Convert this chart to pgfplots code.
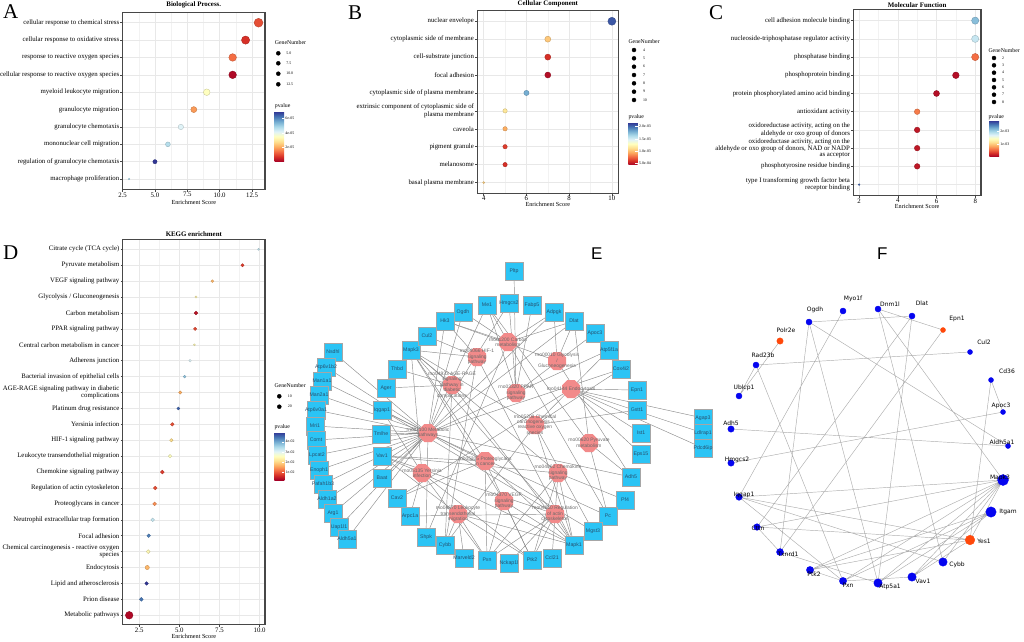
\documentclass[border=0pt]{standalone}
\usepackage{pgfplots}
\pgfplotsset{compat=1.18}
\usepackage{pgfplotstable}
\usepackage{fontspec}
\setmainfont{Liberation Serif}
\newfontfamily\netfont{DejaVu Sans}
\newfontfamily\boxfont{Liberation Sans}
\usetikzlibrary{calc,shapes.geometric}

\definecolor{boxcyan}{RGB}{43,196,245}
\definecolor{boxtext}{RGB}{40,80,110}
\definecolor{pathpink}{RGB}{242,138,138}
\definecolor{pathtext}{RGB}{105,105,105}
\definecolor{fblue}{RGB}{5,5,240}
\definecolor{forange}{RGB}{255,72,10}

\newcommand{\lab}{\fontsize{6.8}{5.4}\selectfont}
\newcommand{\tinylab}{\fontsize{3.9}{4.2}\selectfont}
\newcommand{\legt}{\fontsize{5.8}{6.5}\selectfont}

\pgfplotsset{
  colormap={rdylbu}{rgb255=(165,0,38) rgb255=(215,48,39) rgb255=(244,109,67) rgb255=(253,174,97) rgb255=(254,224,144) rgb255=(255,255,191) rgb255=(224,243,248) rgb255=(171,217,233) rgb255=(116,173,209) rgb255=(69,117,180) rgb255=(49,54,149)},
  dotplot/.style={
    scale only axis, anchor=north west, clip=false,
    y dir=reverse, ymin=0.4,
    colormap name=rdylbu,
    axis line style={draw=black!72, line width=1.1pt},
    tick pos=left, tick align=outside,
    major tick length=2.2pt, minor tick length=0pt,
    tick style={black!72, line width=0.5pt},
    grid=major, grid style={black!9, line width=0.5pt},
    minor x tick num=1, xminorgrids=true, minor grid style={black!5, line width=0.3pt},
    yticklabel style={font=\lab, align=right, inner sep=1pt},
    xticklabel style={font=\lab, inner sep=0.6pt},
    /pgf/number format/assume math mode=true,
    every axis title shift=0pt,
    title style={font=\bfseries\fontsize{6.9}{8}\selectfont, at={(0.5,1)}, anchor=south, inner sep=0pt},
    xlabel={Enrichment Score},
    xlabel style={font=\fontsize{6.2}{7}\selectfont, at={(0.5,0)}, anchor=center},
    colorbar,
    colorbar shift/.style={},
    colorbar style={scale only axis, anchor=north west, y dir=normal,
      axis line style={draw=none}, grid=none, xminorgrids=false, minor x tick num=0,
      xlabel={}, ylabel={}, title={}, xtick=\empty,
      ytick pos=right, yticklabel pos=right,
      tick style={white, line width=0.4pt}, major tick length=2.5pt, tick align=inside,
      yticklabel style={font=\tinylab, inner sep=1.2pt, align=left}},
  },
  dots/.style={scatter, only marks, mark=*, point meta=\thisrow{p},
    visualization depends on={\thisrow{r} \as \msz},
    scatter/@pre marker code/.append style={/tikz/mark size=\msz pt}},
  edgeE/.style={draw=black!45, line width=0.45pt, line join=round, mark=none},
  edgeF/.style={draw=black!32, line width=0.45pt, mark=none, unbounded coords=jump},
  legdots/.style={only marks, mark=*, black, point meta=explicit symbolic,
    visualization depends on={\thisrow{r} \as \msz},
    scatter, scatter/use mapped color={draw=black, fill=black},
    scatter/@pre marker code/.append style={/tikz/mark size=\msz pt},
    nodes near coords, every node near coord/.append style={font=\tinylab, anchor=west, text=black}},
}

\pgfplotstableread{
x y g
514 271 Pltp
463 312 Ogdh
487 305 Me1
509 303 Hmgcs2
532 305 Fabp5
554 312 Adpgk
574 321 Dlat
595 333 Apoc3
609 350 Atp5f1a
621 369 Cox4i2
637 390 Epn1
637 410 Gstt1
641 433 Ist1
641 454 Eps15
631 477 Adh5
625 500 Pf4
608 516 Pc
593 531 Mgst3
574 545 Mapk1
552 558 Ccl21
532 560 Ptk2
509 563 Nckap1l
487 560 Pxn
464 558 Marveld2
445 545 Cybb
426 537 Shpk
410 516 Arpc1a
397 498 Cav2
382 478 Baat
382 456 Vav1
381 434 Tmlhe
382 410 Iqgap1
386 388 Ager
397 369 Thbd
411 350 Mapk3
427 336 Cul2
445 321 Hk3
333 352 Nsdhl
326 367 Atp6v1b2
322 381 Man1a1
319 395 Man2a1
316 410 Atp6v0a1
315 426 Mri1
316 440 Comt
317 455 Lpcat2
319 470 Enoph1
323 484 Pafah1b3
327 499 Aldh1a2
333 513 Arg1
339 527 Uap1l1
347 539 Aldh5a1
703 418 Agap3
703 433 Ldlrap1
703 448 Pdcd6ip
}\genesE

\pgfplotstableread{
x y r
809 322 3
843 311 3
878 309 3
912 316 3
970 352 2.5
756 365 3
991 380 2.5
739 396 3
1003 412 2.5
731 429 3.2
1008 446 2.5
731 463 3.2
1003 480 5.5
739 497 3.3
991 512 5.2
757 527 3.3
780 552 3.5
943 562 4.2
810 570 3.6
912 577 4.2
843 581 3.6
878 583 4.2
}\blueF

\pgfplotstableread{
x y r
943 330 2.5
780 341 3.2
970 540 4.8
}\orangeF

\pgfplotstableread{
x y g
815 310 Ogdh
853 299 Myo1f
890 304 Dnm1l
922 303 Dlat
957 319 Epn1
786 330 Polr2e
984 342 Cul2
763 355 Rad23b
1007 371 Cd36
744 388 Ublcp1
1001 406 Apoc3
731 423 Adh5
1002 442 Aldh5a1
737 460 Hmgcs2
1000 478 Mapk3
744 495 Iqgap1
1008 512 Itgam
758 528 Cttn
984 541 Yes1
788 554 Txnrd1
957 565 Cybb
814 574 Ptk2
923 581 Vav1
848 585 Pxn
890 587 Atp5a1
}\labF

\begin{document}
\begin{tikzpicture}
\useasboundingbox (0,0) rectangle (1024pt,641pt);

% ---------------- canvas: networks, legends, letters
\begin{axis}[at={(0,0)}, anchor=south west, width=1024pt, height=641pt, scale only axis,
  xmin=0, xmax=1024, ymin=0, ymax=641, y dir=reverse, hide axis, clip=false]

% E edges, one star per pathway
\addplot[edgeE] coordinates {(428,433) (333,352) (428,433) (326,367) (428,433) (322,381) (428,433) (319,395) (428,433) (316,410) (428,433) (315,426) (428,433) (316,440) (428,433) (317,455) (428,433) (319,470) (428,433) (323,484) (428,433) (327,499) (428,433) (333,513) (428,433) (339,527) (428,433) (347,539) (428,433) (381,434) (428,433) (382,478) (428,433) (463,312) (428,433) (487,305) (428,433) (509,303) (428,433) (554,312) (428,433) (574,321) (428,433) (609,350) (428,433) (621,369) (428,433) (445,321) (428,433) (608,516) (428,433) (593,531) (428,433) (426,537) (428,433) (631,477)};
\addplot[edgeE] coordinates {(508,342) (463,312) (508,342) (487,305) (508,342) (445,321) (508,342) (554,312) (508,342) (574,321) (508,342) (608,516) (508,342) (426,537)};
\addplot[edgeE] coordinates {(477,357) (445,321) (477,357) (411,350) (477,357) (574,545) (477,357) (445,545) (477,357) (427,336)};
\addplot[edgeE] coordinates {(557,361) (445,321) (557,361) (554,312) (557,361) (574,321) (557,361) (631,477)};
\addplot[edgeE] coordinates {(452,385) (386,388) (452,385) (397,369) (452,385) (411,350) (452,385) (574,545) (452,385) (445,545)};
\addplot[edgeE] coordinates {(516,393) (509,303) (516,393) (487,305) (516,393) (532,305) (516,393) (595,333) (516,393) (514,271)};
\addplot[edgeE] coordinates {(571,389) (637,390) (571,389) (641,433) (571,389) (641,454) (571,389) (703,418) (571,389) (703,433) (571,389) (703,448) (571,389) (397,498)};
\addplot[edgeE] coordinates {(535,425) (574,545) (535,425) (411,350) (535,425) (445,545) (535,425) (621,369) (535,425) (609,350) (535,425) (593,531) (535,425) (637,410)};
\addplot[edgeE] coordinates {(589,443) (487,305) (589,443) (574,321) (589,443) (608,516) (589,443) (631,477)};
\addplot[edgeE] coordinates {(485,461) (574,545) (485,461) (411,350) (485,461) (532,560) (485,461) (397,498) (485,461) (487,560) (485,461) (382,410) (485,461) (382,456)};
\addplot[edgeE] coordinates {(422,473) (574,545) (422,473) (411,350) (422,473) (382,456) (422,473) (532,560) (422,473) (487,560) (422,473) (410,516) (422,473) (382,410)};
\addplot[edgeE] coordinates {(558,473) (574,545) (558,473) (411,350) (558,473) (382,456) (558,473) (532,560) (558,473) (487,560) (558,473) (625,500) (558,473) (552,558)};
\addplot[edgeE] coordinates {(504,501) (574,545) (504,501) (411,350) (504,501) (487,560) (504,501) (532,560)};
\addplot[edgeE] coordinates {(458,514) (382,456) (458,514) (487,560) (458,514) (532,560) (458,514) (445,545) (458,514) (464,558) (458,514) (574,545)};
\addplot[edgeE] coordinates {(555,514) (574,545) (555,514) (411,350) (555,514) (487,560) (555,514) (532,560) (555,514) (382,410) (555,514) (509,563) (555,514) (410,516) (555,514) (382,456)};

% E pathway octagons
\addplot[draw=none, mark=none, nodes near coords={\phantom{x}},
  every node near coord/.append style={regular polygon, regular polygon sides=8, minimum size=19.5pt, inner sep=0pt, fill=pathpink, anchor=center}]
  coordinates {(508,342) (477,357) (557,361) (452,385) (516,393) (571,389) (535,425) (428,433) (589,443) (485,461) (422,473) (558,473) (504,501) (458,514) (555,514)};

% E gene boxes
\addplot[only marks, mark=square*, mark size=9pt,
  mark options={fill=boxcyan, draw=black!35, line width=0.5pt, rounded corners=2pt},
  point meta=explicit symbolic, nodes near coords,
  every node near coord/.append style={font=\boxfont\fontsize{5.2}{5.5}\selectfont, text=boxtext, anchor=center, inner sep=0pt}]
  table[meta=g] {\genesE};

% E pathway labels
\addplot[draw=none, mark=none, point meta=explicit symbolic, nodes near coords,
  every node near coord/.append style={font=\boxfont\fontsize{4.9}{5.4}\selectfont, text=pathtext, align=center, anchor=center, inner sep=0pt}]
  coordinates {
  (508,342) [rno01200 Carbon\\metabolism]
  (477,357) [rno04066 HIF-1\\signaling\\pathway]
  (557,361) [rno00010 Glycolysis\\/\\Gluconeogenesis]
  (452,385) [rno04933 AGE-RAGE\\signaling\\pathway in\\diabetic\\complications]
  (516,393) [rno03320 PPAR\\signaling\\pathway]
  (571,389) [rno04144 Endocytosis]
  (535,425) [rno05208 Chemical\\carcinogenesis -\\reactive oxygen\\species]
  (428,433) [rno01100 Metabolic\\pathways]
  (589,443) [rno00620 Pyruvate\\metabolism]
  (485,461) [rno05205 Proteoglycans\\in cancer]
  (422,473) [rno05135 Yersinia\\infection]
  (558,473) [rno04062 Chemokine\\signaling\\pathway]
  (504,501) [rno04370 VEGF\\signaling\\pathway]
  (458,514) [rno04670 Leukocyte\\transendothelial\\migration]
  (555,514) [rno04810 Regulation\\of actin\\cytoskeleton]};

% F edges
\addplot[edgeF] coordinates {
(809,322) (912,316) (nan,nan) (878,309) (943,330) (nan,nan)
(780,341) (739,396) (nan,nan) (756,365) (739,396) (nan,nan)
(756,365) (970,352) (nan,nan) (756,365) (843,581) (nan,nan)
(809,322) (1008,446) (nan,nan) (809,322) (780,552) (nan,nan)
(809,322) (878,583) (nan,nan) (843,311) (739,497) (nan,nan)
(878,309) (1003,480) (nan,nan) (878,309) (943,562) (nan,nan)
(912,316) (757,527) (nan,nan) (912,316) (878,583) (nan,nan)
(943,330) (780,552) (nan,nan) (991,380) (1003,412) (nan,nan)
(991,380) (970,540) (nan,nan) (1003,412) (731,463) (nan,nan)
(731,429) (1008,446) (nan,nan) (1003,480) (739,497) (nan,nan)
(1003,480) (757,527) (nan,nan) (1003,480) (810,570) (nan,nan)
(1003,480) (843,581) (nan,nan) (1003,480) (878,583) (nan,nan)
(1003,480) (912,577) (nan,nan) (1003,480) (943,562) (nan,nan)
(1003,480) (970,540) (nan,nan) (991,512) (810,570) (nan,nan)
(991,512) (843,581) (nan,nan) (991,512) (912,577) (nan,nan)
(991,512) (878,583) (nan,nan) (970,540) (739,497) (nan,nan)
(970,540) (757,527) (nan,nan) (970,540) (810,570) (nan,nan)
(970,540) (912,577) (nan,nan) (739,497) (943,562) (nan,nan)
(739,497) (843,581) (nan,nan) (757,527) (780,552) (nan,nan)
(780,552) (878,583) (nan,nan) (810,570) (843,581) (nan,nan)
(843,581) (912,577)};

% F nodes
\addplot[scatter, only marks, mark=*, scatter/use mapped color={draw=fblue, fill=fblue},
  visualization depends on={\thisrow{r} \as \msz},
  scatter/@pre marker code/.append style={/tikz/mark size=\msz pt}] table {\blueF};
\addplot[scatter, only marks, mark=*, scatter/use mapped color={draw=forange, fill=forange},
  visualization depends on={\thisrow{r} \as \msz},
  scatter/@pre marker code/.append style={/tikz/mark size=\msz pt}] table {\orangeF};
\addplot[draw=none, mark=none, point meta=explicit symbolic, nodes near coords,
  every node near coord/.append style={font=\netfont\fontsize{6}{7}\selectfont, text=black, anchor=center, inner sep=0pt}]
  table[meta=g] {\labF};

% size legends
\addplot[legdots, every node near coord/.append style={xshift=4.5pt}] table[meta=g] {
x y r g
278.3 53.3 2.0 5.0
278.3 63.3 2.5 7.5
278.3 73.7 3.0 10.0
278.3 84.3 3.5 12.5
};
\addplot[legdots, every node near coord/.append style={xshift=5.5pt}] table[meta=g] {
x y r g
634 50 0.8 4
634 58.3 1.6 5
634 66.7 2.0 6
634 75 2.4 7
634 83.3 2.8 8
634 91.7 3.1 9
634 100 3.4 10
};
\addplot[legdots, every node near coord/.append style={xshift=4.5pt}] table[meta=g] {
x y r g
994 58 0.8 2
994 65.3 1.5 3
994 72.7 1.9 4
994 80 2.3 5
994 87.3 2.6 6
994 94.7 2.9 7
994 102 3.2 8
};
\addplot[legdots, every node near coord/.append style={xshift=5pt}] table[meta=g] {
x y r g
279.3 396.3 2.3 10
279.3 406.7 3.3 20
};

\node[font=\legt, anchor=west, inner sep=0pt] at (axis cs:274.7,42.7) {GeneNumber};
\node[font=\legt, anchor=west, inner sep=0pt] at (axis cs:274.7,106) {pvalue};
\node[font=\legt, anchor=west, inner sep=0pt] at (axis cs:628.3,41.3) {GeneNumber};
\node[font=\legt, anchor=west, inner sep=0pt] at (axis cs:628.3,117.3) {pvalue};
\node[font=\legt, anchor=west, inner sep=0pt] at (axis cs:988.3,50.7) {GeneNumber};
\node[font=\legt, anchor=west, inner sep=0pt] at (axis cs:988.3,116.7) {pvalue};
\node[font=\legt, anchor=west, inner sep=0pt] at (axis cs:274.3,386) {GeneNumber};
\node[font=\legt, anchor=west, inner sep=0pt] at (axis cs:274.3,427.3) {pvalue};

% panel letters
\node[font=\fontsize{21}{21}\selectfont, anchor=base west, inner sep=0pt] at (axis cs:3,18.5) {A};
\node[font=\fontsize{21}{21}\selectfont, anchor=base west, inner sep=0pt] at (axis cs:348,19) {B};
\node[font=\fontsize{21}{21}\selectfont, anchor=base west, inner sep=0pt] at (axis cs:709,19) {C};
\node[font=\fontsize{21}{21}\selectfont, anchor=base west, inner sep=0pt] at (axis cs:3,259) {D};
\node[font=\boxfont\fontsize{17}{17}\selectfont, anchor=base west, inner sep=0pt] at (axis cs:591,259) {E};
\node[font=\boxfont\fontsize{17}{17}\selectfont, anchor=base west, inner sep=0pt] at (axis cs:877,259) {F};
\end{axis}

% ---------------- A
\begin{axis}[dotplot, at={(122.6pt,628.7pt)}, width=142.4pt, height=177.2pt,
  xmin=2.5, xmax=13.5, ymax=10.6,
  xtick={2.5,5,7.5,10,12.5}, xticklabels={2.5,5.0,7.5,10.0,12.5},
  ytick={1,...,10},
  yticklabels={cellular response to chemical stress, cellular response to oxidative stress, response to reactive oxygen species, cellular response to reactive oxygen species, myeloid leukocyte migration, granulocyte migration, granulocyte chemotaxis, mononuclear cell migration, regulation of granulocyte chemotaxis, macrophage proliferation},
  title={Biological Process.}, title style={yshift=4pt},
  xlabel style={yshift=-12.8pt},
  point meta min=0.11, point meta max=6.85,
  colorbar style={at={($(parent axis.north east)+(9.7pt,-99.4pt)$)}, width=9.3pt, height=50pt,
    ytick={2,4,6}, yticklabels={2e-05,4e-05,6e-05}}]
\addplot[dots] table {
x y p r
13 1 1.12 4.4
12 2 0.78 4.1
11 3 1.46 3.8
11 4 0.24 3.8
9 5 3.48 3.3
8 6 1.93 3.0
7 7 4.15 2.7
6 8 4.69 2.4
5 9 6.85 2.1
3 10 4.83 0.8
};
\end{axis}

% ---------------- B
\begin{axis}[dotplot, at={(477.3pt,630.5pt)}, width=141pt, height=182.8pt,
  xmin=3.7, xmax=10.3, ymax=10.6,
  xtick={4,6,8,10},
  ytick={1,...,10},
  yticklabels={nuclear envelope, cytoplasmic side of membrane, cell-substrate junction, focal adhesion, cytoplasmic side of plasma membrane, {extrinsic component of cytoplasmic side of\\plasma membrane}, caveola, pigment granule, melanosome, basal plasma membrane},
  title={Cellular Component}, title style={yshift=3pt},
  xlabel style={yshift=-10.9pt},
  point meta min=4.3, point meta max=21.6,
  colorbar style={at={($(parent axis.north east)+(10pt,-112.2pt)$)}, width=9.4pt, height=42.3pt,
    ytick={5,10,15,20}, yticklabels={5.0e-04,1.0e-03,1.5e-03,2.0e-03}}]
\addplot[dots] table {
x y p r
10 1 20.7 4.0
7 2 10.4 3.0
7 3 6.0 3.0
7 4 4.8 3.0
6 5 18.1 2.6
5 6 11.6 2.2
5 7 9.5 2.2
5 8 6.4 2.2
5 9 6.0 2.2
4 10 10.7 1.0
};
\end{axis}

% ---------------- C
\begin{axis}[dotplot, at={(853.3pt,631.3pt)}, width=127.7pt, height=185.8pt,
  xmin=1.7, xmax=8.3, ymax=10.6,
  xtick={2,4,6,8},
  ytick={1,...,10},
  yticklabels={cell adhesion molecule binding, nucleoside-triphosphatase regulator activity, phosphatase binding, phosphoprotein binding, protein phosphorylated amino acid binding, antioxidant activity, {oxidoreductase activity, acting on the\\aldehyde or oxo group of donors}, {oxidoreductase activity, acting on the\\aldehyde or oxo group of donors, NAD or NADP\\as acceptor}, phosphotyrosine residue binding, {type I transforming growth factor beta\\receptor binding}},
  title={Molecular Function}, title style={yshift=2pt},
  xlabel style={yshift=-10.6pt},
  point meta min=0.02, point meta max=2.87,
  colorbar style={at={($(parent axis.north east)+(8.3pt,-111pt)$)}, width=9.7pt, height=36pt,
    ytick={1,2}, yticklabels={1e-03,2e-03}}]
\addplot[dots] table {
x y p r
8 1 2.19 3.6
8 2 1.87 3.6
8 3 0.59 3.6
7 4 0.105 3.3
6 5 0.105 3.0
5 6 0.65 2.8
5 7 0.16 2.8
5 8 0.16 2.8
5 9 0.16 2.8
2 10 2.67 0.9
};
\end{axis}

% ---------------- D
\begin{axis}[dotplot, at={(122.7pt,401.2pt)}, width=142.3pt, height=385pt,
  xmin=1.47, xmax=10.34, ymax=24.6,
  xtick={2.5,5,7.5,10}, xticklabels={2.5,5.0,7.5,10.0},
  ytick={1,...,24},
  yticklabels={Citrate cycle (TCA cycle), Pyruvate metabolism, VEGF signaling pathway, Glycolysis / Gluconeogenesis, Carbon metabolism, PPAR signaling pathway, Central carbon metabolism in cancer, Adherens junction, Bacterial invasion of epithelial cells, {AGE-RAGE signaling pathway in diabetic\\complications}, Platinum drug resistance, Yersinia infection, HIF-1 signaling pathway, Leukocyte transendothelial migration, Chemokine signaling pathway, Regulation of actin cytoskeleton, Proteoglycans in cancer, Neutrophil extracellular trap formation, Focal adhesion, {Chemical carcinogenesis - reactive oxygen\\species}, Endocytosis, Lipid and atherosclerosis, Prion disease, Metabolic pathways},
  title={KEGG enrichment}, title style={yshift=3pt},
  xlabel style={yshift=-11.7pt},
  point meta min=0.25, point meta max=4.92,
  colorbar style={at={($(parent axis.north east)+(9.3pt,-192.5pt)$)}, width=10pt, height=47.7pt,
    ytick={1,2,3,4}, yticklabels={1e-02,2e-02,3e-02,4e-02}}]
\addplot[dots] table {
x y p r
9.94 1 3.29 1.0
8.94 2 0.81 1.6
7.06 3 1.74 1.4
6.04 4 2.44 1.1
6.04 5 0.44 1.8
5.98 6 0.90 1.6
5.94 7 2.49 1.0
5.67 8 3.05 1.3
5.33 9 3.75 1.4
5.06 10 1.65 1.6
4.94 11 4.59 1.5
4.56 12 0.95 1.8
4.50 13 2.12 1.7
4.42 14 2.59 1.7
3.94 15 0.81 1.9
3.50 16 0.95 1.9
3.46 17 1.42 1.9
3.34 18 3.29 1.8
3.09 19 4.36 1.8
3.06 20 2.49 1.9
3.00 21 1.74 2.1
2.96 22 4.92 1.8
2.63 23 4.45 1.9
1.875 24 0.34 3.8
};
\end{axis}
\end{tikzpicture}
\end{document}
